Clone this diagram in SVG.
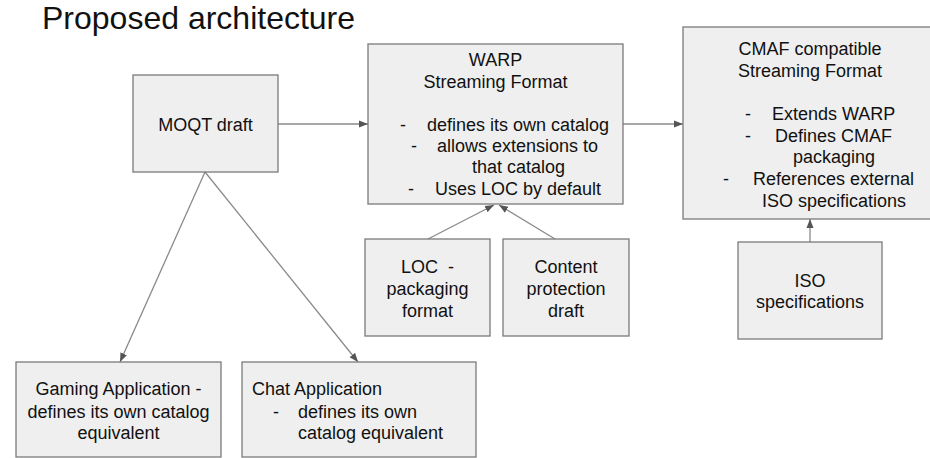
<svg xmlns="http://www.w3.org/2000/svg" width="930" height="458" viewBox="0 0 930 458">
  <style>
    .box { fill: #efefef; stroke: #7a7a7a; stroke-width: 1.3; }
    .lbl { font-family: "Liberation Sans", Arial, sans-serif; font-size: 18px; fill: #111; white-space: pre; }
    .mid { text-anchor: middle; }
    .title { font-family: "Liberation Sans", Arial, sans-serif; font-size: 32px; fill: #111; }
    .conn { stroke: #8a8a8a; stroke-width: 1.3; fill: none; marker-end: url(#arrow); }
  </style>
  <defs>
    <marker id="arrow" markerUnits="userSpaceOnUse" markerWidth="10" markerHeight="8" refX="9" refY="4" orient="auto">
      <path d="M0,0.5 L9,4 L0,7.5 Z" fill="#555"/>
    </marker>
  </defs>
  <rect width="930" height="458" fill="#ffffff"/>

  <text class="title" x="42" y="29">Proposed architecture</text>

  <g id="connectors">
    <line class="conn" x1="278" y1="124" x2="368" y2="124"/>
    <line class="conn" x1="623" y1="124" x2="683" y2="124"/>
    <line class="conn" x1="810" y1="242" x2="810" y2="219"/>
    <line class="conn" x1="428" y1="239" x2="494" y2="205"/>
    <line class="conn" x1="555" y1="239" x2="499" y2="205"/>
    <line class="conn" x1="205" y1="172" x2="120" y2="362"/>
    <line class="conn" x1="205" y1="172" x2="358" y2="362"/>
  </g>

  <g id="moqt">
    <rect class="box" x="133" y="75" width="145" height="97"/>
    <text class="lbl mid" x="205.5" y="131">MOQT draft</text>
  </g>

  <g id="warp">
    <rect class="box" x="368" y="44" width="255" height="160"/>
    <text class="lbl mid" x="495.5" y="66">WARP</text>
    <text class="lbl mid" x="495.5" y="88">Streaming Format</text>
    <text class="lbl" x="400" y="131">-</text>
    <text class="lbl" x="427" y="131">defines its own catalog</text>
    <text class="lbl" x="411" y="152">-</text>
    <text class="lbl" x="437" y="152">allows extensions to</text>
    <text class="lbl" x="472" y="173">that catalog</text>
    <text class="lbl" x="408" y="195">-</text>
    <text class="lbl" x="435" y="195">Uses LOC by default</text>
  </g>

  <g id="cmaf">
    <rect class="box" x="683" y="27" width="254" height="192"/>
    <text class="lbl mid" x="810" y="55">CMAF compatible</text>
    <text class="lbl mid" x="810" y="77">Streaming Format</text>
    <text class="lbl" x="745" y="120">-</text>
    <text class="lbl" x="772" y="120">Extends WARP</text>
    <text class="lbl" x="745" y="142">-</text>
    <text class="lbl" x="775" y="142">Defines CMAF</text>
    <text class="lbl" x="793" y="163">packaging</text>
    <text class="lbl" x="723" y="185">-</text>
    <text class="lbl" x="753" y="185">References external</text>
    <text class="lbl" x="762" y="207">ISO specifications</text>
  </g>

  <g id="loc">
    <rect class="box" x="365" y="239" width="125" height="97"/>
    <text class="lbl" x="401" y="273" xml:space="preserve">LOC  -</text>
    <text class="lbl mid" x="427.5" y="295">packaging</text>
    <text class="lbl mid" x="427.5" y="317">format</text>
  </g>

  <g id="content-protection">
    <rect class="box" x="503" y="239" width="126" height="97"/>
    <text class="lbl mid" x="566" y="273">Content</text>
    <text class="lbl mid" x="566" y="295">protection</text>
    <text class="lbl mid" x="566" y="317">draft</text>
  </g>

  <g id="iso">
    <rect class="box" x="738" y="242" width="144" height="97"/>
    <text class="lbl mid" x="810" y="287">ISO</text>
    <text class="lbl mid" x="810" y="308">specifications</text>
  </g>

  <g id="gaming">
    <rect class="box" x="16" y="362" width="205" height="95"/>
    <text class="lbl mid" x="118.5" y="395">Gaming Application -</text>
    <text class="lbl mid" x="118.5" y="418">defines its own catalog</text>
    <text class="lbl mid" x="118.5" y="439">equivalent</text>
  </g>

  <g id="chat">
    <rect class="box" x="242" y="362" width="234" height="95"/>
    <text class="lbl" x="252" y="395">Chat Application</text>
    <text class="lbl" x="273" y="418">-</text>
    <text class="lbl" x="298" y="418">defines its own</text>
    <text class="lbl" x="298" y="439">catalog equivalent</text>
  </g>
</svg>
